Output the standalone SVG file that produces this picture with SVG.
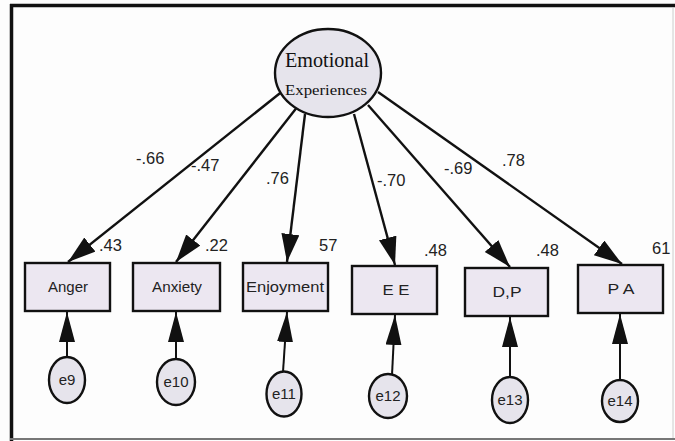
<svg xmlns="http://www.w3.org/2000/svg" width="675" height="441" viewBox="0 0 675 441">
<style>
.box{fill:#ece7f1;stroke:#111;stroke-width:2.4}
.ell{fill:#e6e4ec;stroke:#111;stroke-width:2.4}
.lbl{font-family:"Liberation Sans",Arial,sans-serif;font-size:14px;fill:#222;text-anchor:middle}
.elbl{font-family:"Liberation Sans",Arial,sans-serif;font-size:15px;fill:#222;text-anchor:middle}
.num{font-family:"Liberation Sans",Arial,sans-serif;font-size:16.5px;fill:#222}
.conn line{stroke:#111;stroke-width:2.4;marker-end:url(#ah)}
.conn line.err{stroke-width:2;marker-end:url(#ah2)}
.serif{font-family:"Liberation Serif","Times New Roman",serif;fill:#111;text-anchor:middle}
</style>
<defs>
<marker id="ah" markerUnits="userSpaceOnUse" markerWidth="30" markerHeight="20" refX="28" refY="9" orient="auto">
<path d="M0,0 L28,9 L0,18 z" fill="#111"/>
</marker>
<marker id="ah2" markerUnits="userSpaceOnUse" markerWidth="32" markerHeight="18" refX="30" refY="8" orient="auto">
<path d="M0,0 L30,8 L0,16 z" fill="#111"/>
</marker>
</defs>
<rect x="0" y="0" width="675" height="441" fill="#fdfdfd"/>
<line x1="11.5" y1="4" x2="11.5" y2="441" stroke="#111" stroke-width="3.5"/>
<line x1="10" y1="5.5" x2="675" y2="5.5" stroke="#111" stroke-width="3.5"/>
<line x1="10" y1="439" x2="675" y2="439" stroke="#777" stroke-width="2"/>
<line x1="673" y1="8" x2="673" y2="438" stroke="#ccc" stroke-width="1"/>

<g class="conn" id="connectors">
<line x1="284" y1="90" x2="68" y2="262"/>
<line x1="298" y1="106" x2="176" y2="262"/>
<line x1="305" y1="114" x2="287" y2="262"/>
<line x1="354" y1="114" x2="395" y2="265"/>
<line x1="368" y1="105" x2="510" y2="267"/>
<line x1="378" y1="92" x2="622" y2="264"/>
<line class="err" x1="67" y1="357" x2="67" y2="312"/>
<line class="err" x1="176" y1="360" x2="176" y2="312"/>
<line class="err" x1="283" y1="372" x2="287" y2="312"/>
<line class="err" x1="392" y1="375" x2="395" y2="315"/>
<line class="err" x1="510" y1="377" x2="510" y2="317"/>
<line class="err" x1="620" y1="380" x2="620" y2="314"/>
</g>

<g id="emotional">
<ellipse class="ell" cx="328" cy="73" rx="53" ry="44"/>
<text class="serif" x="327" y="67" font-size="20" textLength="84" lengthAdjust="spacingAndGlyphs">Emotional</text>
<text class="serif" x="326" y="95" font-size="15" textLength="82" lengthAdjust="spacingAndGlyphs">Experiences</text>
</g>

<g id="anger"><rect class="box" x="25" y="263" width="85" height="48"/><text class="lbl" x="68" y="292" textLength="40" lengthAdjust="spacingAndGlyphs">Anger</text></g>
<g id="anxiety"><rect class="box" x="133" y="263" width="87" height="48"/><text class="lbl" x="177" y="292" textLength="50" lengthAdjust="spacingAndGlyphs">Anxiety</text></g>
<g id="enjoyment"><rect class="box" x="243" y="263" width="85" height="48"/><text class="lbl" x="285" y="292" textLength="78" lengthAdjust="spacingAndGlyphs">Enjoyment</text></g>
<g id="ee"><rect class="box" x="352" y="266" width="85" height="48"/><text class="lbl" x="396" y="295" textLength="27" lengthAdjust="spacingAndGlyphs">E E</text></g>
<g id="dp"><rect class="box" x="465" y="268" width="83" height="48"/><text class="lbl" x="507" y="297" textLength="29" lengthAdjust="spacingAndGlyphs">D,P</text></g>
<g id="pa"><rect class="box" x="578" y="265" width="85" height="48"/><text class="lbl" x="621" y="294" textLength="27" lengthAdjust="spacingAndGlyphs">P A</text></g>

<g id="e9"><ellipse class="ell" cx="67" cy="380" rx="18" ry="23"/><text class="elbl" x="67" y="385">e9</text></g>
<g id="e10"><ellipse class="ell" cx="176" cy="382" rx="19" ry="23"/><text class="elbl" x="176" y="387">e10</text></g>
<g id="e11"><ellipse class="ell" cx="284" cy="394" rx="17.5" ry="22.5"/><text class="elbl" x="284" y="399">e11</text></g>
<g id="e12"><ellipse class="ell" cx="388" cy="396" rx="19" ry="22"/><text class="elbl" x="388" y="401">e12</text></g>
<g id="e13"><ellipse class="ell" cx="510" cy="400" rx="18" ry="23"/><text class="elbl" x="510" y="405">e13</text></g>
<g id="e14"><ellipse class="ell" cx="620" cy="401" rx="18" ry="21"/><text class="elbl" x="620" y="406">e14</text></g>

<g id="labels">
<text class="num" x="136" y="164">-.66</text>
<text class="num" x="191" y="171">-.47</text>
<text class="num" x="266" y="184">.76</text>
<text class="num" x="377" y="186">-.70</text>
<text class="num" x="444" y="174">-.69</text>
<text class="num" x="502" y="166">.78</text>
<text class="num" x="99" y="251">.43</text>
<text class="num" x="205" y="251">.22</text>
<text class="num" x="319" y="251">57</text>
<text class="num" x="424" y="256">.48</text>
<text class="num" x="536" y="256">.48</text>
<text class="num" x="652" y="254">61</text>
</g>
</svg>
